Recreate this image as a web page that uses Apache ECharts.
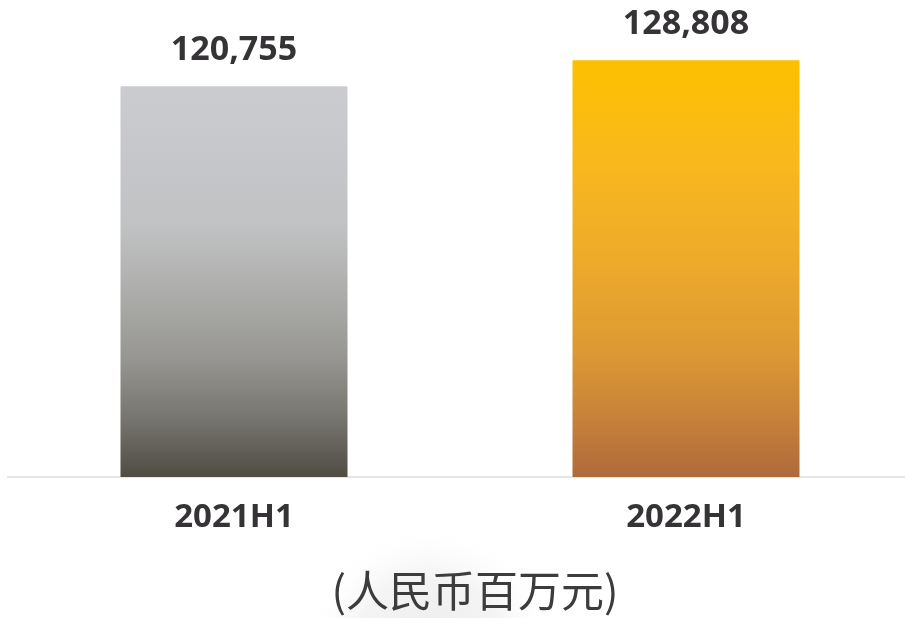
<!DOCTYPE html>
<html>
<head>
<meta charset="utf-8">
<script src="https://cdn.jsdelivr.net/npm/echarts@6/dist/echarts.min.js"></script>
<style>
html,body{margin:0;padding:0;background:#fff;}
#c{width:905px;height:618px;}
</style>
</head>
<body>
<div id="c"></div>
<script>
var categories = ['2021H1', '2022H1'];
var values = [120755, 128808];
var unitLabel = '(人民币百万元)';

var gradients = [
  [[0, '#cbccd0'], [0.35, '#c1c2c4'], [0.5, '#b0b1af'], [0.7, '#969591'], [0.85, '#77756f'], [1, '#4f4c44']],
  [[0, '#fdc000'], [0.25, '#f8b81e'], [0.5, '#eca92c'], [0.7, '#dc9934'], [0.85, '#c9823a'], [1, '#ae6a3c']]
];

var chart = echarts.init(document.getElementById('c'), null, {renderer: 'canvas'});
var data = values.map(function (v, i) {
  return {
    value: v,
    itemStyle: {
      color: new echarts.graphic.LinearGradient(0, 0, 0, 1, gradients[i].map(function (s) {
        return {offset: s[0], color: s[1]};
      }))
    }
  };
});

chart.setOption({
  backgroundColor: '#ffffff',
  animation: false,
  grid: {left: 8, width: 904, top: 24, bottom: 141, containLabel: false, outerBoundsMode: 'none'},
  xAxis: {
    type: 'category',
    data: categories,
    axisLine: {show: true, lineStyle: {color: '#e5e5e1', width: 2}},
    axisTick: {show: false},
    axisLabel: {
      color: '#363336',
      fontFamily: 'Open Sans',
      fontWeight: 'bold',
      fontSize: 33,
      lineHeight: 33,
      margin: 24
    }
  },
  yAxis: {
    type: 'value',
    min: 0,
    max: 140000,
    show: false,
    splitLine: {show: false}
  },
  series: [{
    type: 'bar',
    data: data,
    barWidth: 227,
    label: {
      show: true,
      position: 'top',
      distance: 19,
      color: '#363336',
      fontFamily: 'Open Sans',
      fontWeight: 'bold',
      fontSize: 34,
      lineHeight: 34,
      formatter: function (p) { return p.value.toLocaleString('en-US'); }
    }
  }],
  graphic: [{
    type: 'ellipse',
    z: -10,
    silent: true,
    shape: {cx: 430, cy: 650, rx: 560, ry: 125},
    style: {
      fill: new echarts.graphic.RadialGradient(0.5, 0.5, 0.5, [
        {offset: 0, color: '#ececec'},
        {offset: 0.6, color: '#f4f4f4'},
        {offset: 1, color: 'rgba(255,255,255,0)'}
      ])
    }
  }, {
    type: 'text',
    z: 10,
    x: 475,
    y: 569,
    style: {
      text: unitLabel,
      fill: '#3c3c3c',
      align: 'center',
      font: 'normal 43px "Noto Sans CJK SC"'
    }
  }]
});
</script>
</body>
</html>
